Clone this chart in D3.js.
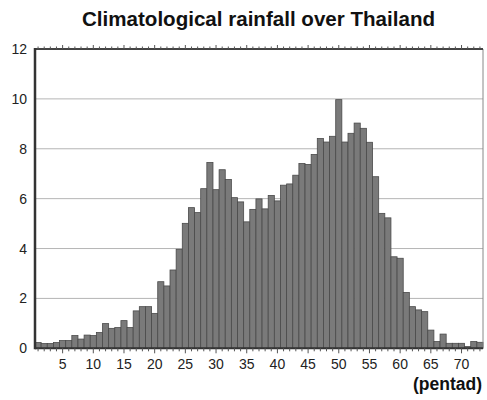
<!DOCTYPE html>
<html><head><meta charset="utf-8">
<script src="https://cdn.jsdelivr.net/npm/d3@7"></script>
<style>body{margin:0;background:#fff;} svg{display:block;}</style>
</head><body>
<svg id="c" width="487" height="400"></svg>
<script>
const title = "Climatological rainfall over Thailand";
const xLabel = "(pentad)";
const pentads = d3.range(1, 74);
const rainfall = [0.23,0.19,0.19,0.23,0.31,0.31,0.51,0.37,0.53,0.51,
  0.63,0.99,0.80,0.83,1.11,0.83,1.50,1.67,1.67,1.40,
  2.67,2.50,3.14,3.97,5.01,5.64,5.44,6.40,7.45,6.36,
  7.16,6.77,6.04,5.87,5.07,5.57,5.99,5.59,6.13,5.91,
  6.54,6.59,6.94,7.41,7.37,7.77,8.41,8.27,8.50,9.97,
  8.27,8.62,9.03,8.82,8.26,6.88,5.41,5.23,3.67,3.61,
  2.24,1.67,1.54,1.47,0.73,0.27,0.57,0.20,0.20,0.20,
  0.07,0.27,0.24];
const yTicks = [0,2,4,6,8,10,12];
const xTickLabels = [5,10,15,20,25,30,35,40,45,50,55,60,65,70];

const svg = d3.select("#c");
const L = 35, R = 483, T = 49, B = 348.3;
const x = d3.scaleBand().domain(pentads).range([L, R]).paddingInner(0).paddingOuter(0);
const y = d3.scaleLinear().domain([0, 12]).range([B, T]);
const font = "'Liberation Sans', Arial, sans-serif";

// title
svg.append("text").attr("x", 82).attr("y", 26)
  .attr("font-family", font).attr("font-weight", "bold").attr("font-size", 20.5)
  .attr("textLength", 353).attr("lengthAdjust", "spacingAndGlyphs")
  .attr("fill", "#111").text(title);

// grid
svg.append("g").selectAll("line").data(yTicks.filter(t => t > 0 && t < 12)).join("line")
  .attr("x1", L).attr("x2", R).attr("y1", d => y(d)).attr("y2", d => y(d))
  .attr("stroke", "#b5b5b5").attr("stroke-width", 1);

// bars
svg.append("g").selectAll("rect").data(pentads).join("rect")
  .attr("x", d => x(d)).attr("width", x.bandwidth())
  .attr("y", (d, i) => y(rainfall[i])).attr("height", (d, i) => y(0) - y(rainfall[i]))
  .attr("fill", "#7a7a7a").attr("stroke", "#4a4a4a").attr("stroke-width", 0.8);

// right frame
svg.append("line").attr("x1", R).attr("x2", R).attr("y1", T).attr("y2", B)
  .attr("stroke", "#888").attr("stroke-width", 1);

// top axis with minor ticks
const xc = d => x(d) + x.bandwidth() / 2;
const topAx = svg.append("g");
topAx.append("line").attr("x1", L).attr("x2", R).attr("y1", T).attr("y2", T)
  .attr("stroke", "#444").attr("stroke-width", 2);
topAx.selectAll("line.t").data(pentads).join("line").attr("class", "t")
  .attr("x1", xc).attr("x2", xc).attr("y1", T).attr("y2", d => d % 5 === 0 ? T - 4 : T - 2.5)
  .attr("stroke", "#555").attr("stroke-width", 1);

// bottom axis
const botAx = svg.append("g");
botAx.append("line").attr("x1", L).attr("x2", R).attr("y1", B).attr("y2", B)
  .attr("stroke", "#333").attr("stroke-width", 2);
botAx.selectAll("line.t").data(pentads).join("line").attr("class", "t")
  .attr("x1", xc).attr("x2", xc).attr("y1", B).attr("y2", d => d % 5 === 0 ? B + 5 : B + 3)
  .attr("stroke", "#555").attr("stroke-width", 1);
botAx.selectAll("text").data(xTickLabels).join("text")
  .attr("x", xc).attr("y", B + 21).attr("text-anchor", "middle")
  .attr("font-family", font).attr("font-size", 14).attr("fill", "#222").text(d => d);

// left axis
const leftAx = svg.append("g");
leftAx.append("line").attr("x1", L).attr("x2", L).attr("y1", T - 1).attr("y2", B + 1)
  .attr("stroke", "#333").attr("stroke-width", 2.5);
leftAx.selectAll("text").data(yTicks).join("text")
  .attr("x", 27).attr("y", d => y(d) + 5).attr("text-anchor", "end")
  .attr("font-family", font).attr("font-size", 14).attr("fill", "#222").text(d => d);

// x label
svg.append("text").attr("x", 482).attr("y", 390).attr("text-anchor", "end")
  .attr("font-family", font).attr("font-weight", "bold").attr("font-size", 17.5)
  .attr("fill", "#111").text(xLabel);
</script>
</body></html>
